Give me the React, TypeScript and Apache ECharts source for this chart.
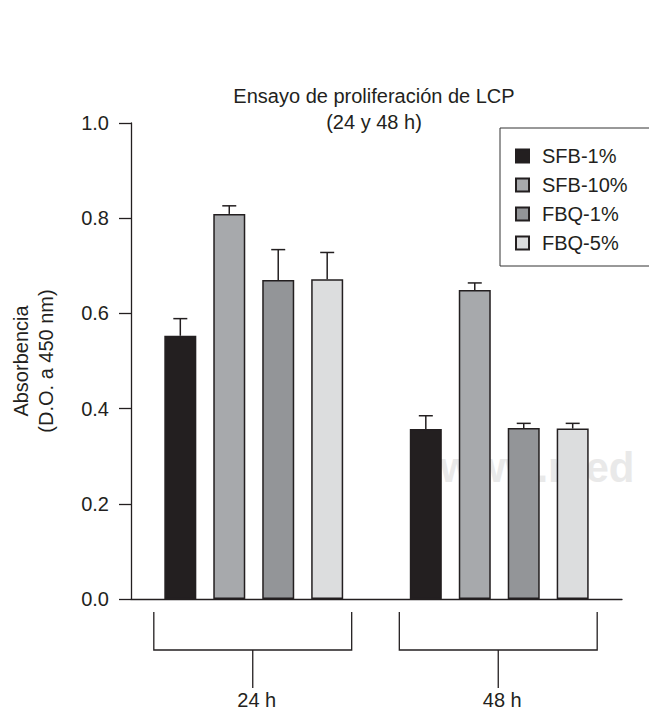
import React, { useEffect, useRef } from "react";
import * as echarts from "echarts";

const categories = ["24 h", "48 h"];
const seriesNames = ["SFB-1%", "SFB-10%", "FBQ-1%", "FBQ-5%"];
const sfb1 = [0.553, 0.357];
const sfb10 = [0.809, 0.649];
const fbq1 = [0.67, 0.359];
const fbq5 = [0.672, 0.358];
const sfb1Err = [0.036, 0.028];
const sfb10Err = [0.017, 0.015];
const fbq1Err = [0.064, 0.01];
const fbq5Err = [0.056, 0.011];
const yTicks = [0, 0.2, 0.4, 0.6, 0.8, 1.0];

const colors = ["#231f20", "#a7a9ac", "#939598", "#dcddde"];
const ink = "#231f20";
const FONT = "'Liberation Sans', Arial, sans-serif";
const BAR_W = 32;
const BAR_GAP = 0.53;

export default function App() {
  const ref = useRef<HTMLDivElement>(null);
  useEffect(() => {
    if (!ref.current) return;
    const chart = echarts.init(ref.current, undefined, { renderer: "svg" });
    const values = [sfb1, sfb10, fbq1, fbq5];
    const errs = [sfb1Err, sfb10Err, fbq1Err, fbq5Err];
    const errData: number[][] = [];
    values.forEach((arr, s) =>
      arr.forEach((v, c) => errData.push([c, v, errs[s][c], s]))
    );
    const step = BAR_W * (1 + BAR_GAP);

    const barSeries = seriesNames.map((name, i) => ({
      name,
      type: "bar",
      data: values[i],
      barWidth: BAR_W,
      barGap: BAR_GAP * 100 + "%",
      itemStyle: { color: colors[i], borderColor: ink, borderWidth: 1.5 },
      z: 3,
    }));

    chart.setOption({
      animation: false,
      textStyle: { fontFamily: FONT },
      title: {
        text: "Ensayo de proliferación de LCP\n(24 y 48 h)",
        left: 374,
        top: 83,
        textAlign: "center",
        padding: 0,
        textStyle: {
          fontFamily: FONT,
          fontSize: 20,
          lineHeight: 26,
          fontWeight: "normal",
          color: ink,
        },
      },
      graphic: [
        {
          type: "text",
          left: 440,
          top: 446,
          z: -10,
          silent: true,
          style: {
            text: "www.med",
            fill: "#e9e9e9",
            font: "bold 42px 'Liberation Sans', Arial, sans-serif",
          },
        },
      ],
      legend: {
        data: seriesNames,
        orient: "vertical",
        left: 500,
        top: 128,
        padding: [18, 60, 13, 15],
        itemGap: 9,
        itemWidth: 13,
        itemHeight: 13,
        icon: "rect",
        borderColor: "#333",
        borderWidth: 1,
        textStyle: {
          fontFamily: FONT,
          fontSize: 20,
          lineHeight: 20,
          color: ink,
          padding: [0, 0, 0, 8],
        },
      },
      grid: { left: 128, right: 27, top: 123, bottom: 112 },
      xAxis: {
        type: "category",
        data: categories,
        boundaryGap: true,
        axisLine: { show: true, lineStyle: { color: ink, width: 1.3 } },
        axisTick: { show: false },
        axisLabel: {
          margin: 91,
          fontSize: 20,
          fontFamily: FONT,
          color: ink,
          padding: [0, 0, 0, 6],
        },
      },
      yAxis: {
        type: "value",
        min: 0,
        max: 1,
        interval: 0.2,
        name: "Absorbencia\n(D.O. a 450 nm)",
        nameLocation: "middle",
        nameGap: 73,
        nameTextStyle: {
          fontSize: 20,
          lineHeight: 25,
          fontFamily: FONT,
          color: ink,
        },
        splitLine: { show: false },
        axisLine: { show: true, lineStyle: { color: ink, width: 1.3 } },
        axisTick: {
          show: true,
          inside: false,
          length: 12,
          lineStyle: { color: ink, width: 1.3 },
        },
        axisLabel: {
          margin: 22,
          fontSize: 20,
          fontFamily: FONT,
          color: ink,
          formatter: (v: number) =>
            yTicks.some((t) => Math.abs(t - v) < 1e-9) ? v.toFixed(1) : "",
        },
      },
      series: [
        ...barSeries,
        {
          type: "custom",
          name: "errors",
          silent: true,
          z: 5,
          clip: false,
          encode: { x: 0, y: 1 },
          data: errData,
          renderItem: (params: any, api: any) => {
            const c = api.value(0);
            const v = api.value(1);
            const e = api.value(2);
            const s = api.value(3);
            const base = api.coord([c, v]);
            const top = api.coord([c, v + e]);
            const x = base[0] + (s - 1.5) * step;
            const style = { stroke: ink, lineWidth: 1.5 };
            return {
              type: "group",
              children: [
                { type: "line", shape: { x1: x, y1: base[1], x2: x, y2: top[1] }, style },
                { type: "line", shape: { x1: x - 7, y1: top[1], x2: x + 7, y2: top[1] }, style },
              ],
            };
          },
        },
        {
          type: "custom",
          name: "brackets",
          silent: true,
          clip: false,
          encode: { x: 0, y: 1 },
          data: categories.map((_, i) => [i, 0]),
          renderItem: (params: any, api: any) => {
            const p = api.coord([api.value(0), 0]);
            const bw = api.size([1, 0])[0];
            const hw = bw * 0.403;
            const x = p[0] - 1;
            const y0 = p[1];
            const style = { stroke: ink, lineWidth: 1.3, fill: "none" };
            return {
              type: "group",
              children: [
                {
                  type: "polyline",
                  shape: {
                    points: [
                      [x - hw, y0 + 13],
                      [x - hw, y0 + 51],
                      [x + hw, y0 + 51],
                      [x + hw, y0 + 13],
                    ],
                  },
                  style,
                },
                { type: "line", shape: { x1: x, y1: y0 + 51, x2: x, y2: y0 + 89 }, style },
              ],
            };
          },
        },
      ],
    });
    return () => chart.dispose();
  }, []);

  return (
    <div
      ref={ref}
      style={{ position: "fixed", left: 0, top: 0, width: 649, height: 711, background: "#fff" }}
    />
  );
}
